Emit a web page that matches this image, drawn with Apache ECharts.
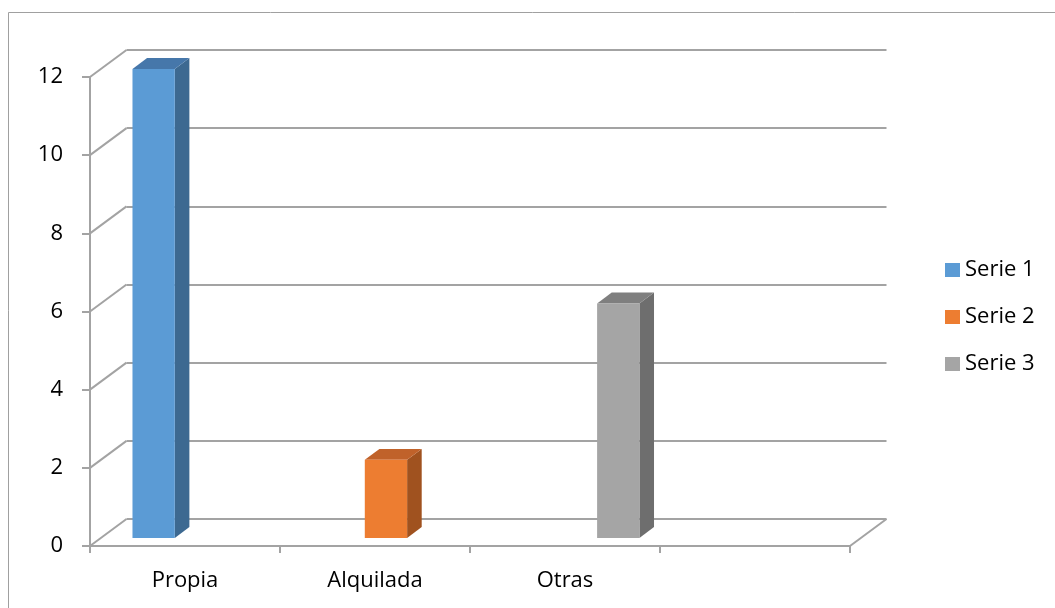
<!DOCTYPE html>
<html>
<head>
<meta charset="utf-8">
<script src="https://cdn.jsdelivr.net/npm/echarts@6/dist/echarts.min.js"></script>
<style>
  html, body { margin: 0; padding: 0; background: #fff; }
  #chart { width: 1055px; height: 608px; }
</style>
</head>
<body>
<div id="chart"></div>
<script>
  // datos del grafico
  var categories = ['Propia', 'Alquilada', 'Otras', '']
  var serie1 = [12, null, null, null]
  var serie2 = [null, 2, null, null]
  var serie3 = [null, null, 6, null]
  var yTicks = [0, 2, 4, 6, 8, 10, 12]
  var seriesNames = ['Serie 1', 'Serie 2', 'Serie 3']

  var FONT = '"Open Sans", sans-serif'
  var GRID_COLOR = '#a3a3a3'
  var DEPTH = [36.5, -27] // desplazamiento de la pared del fondo
  var palette = [
    { front: '#5B9BD5', side: '#3D6991', top: '#4677AA' },
    { front: '#ED7D31', side: '#A0521F', top: '#C0622A' },
    { front: '#A5A5A5', side: '#6E6E6E', top: '#7F7F7F' }
  ]

  // paredes laterales y piso
  function renderWalls (params, api) {
    var v = api.value(1)
    var bw = api.size([1, 0])[0]
    var p = api.coord([0, v])
    var xl = p[0] - bw / 2
    var style = { stroke: GRID_COLOR, lineWidth: 2 }
    var children = [
      { type: 'line', shape: { x1: xl, y1: p[1], x2: xl + DEPTH[0], y2: p[1] + DEPTH[1] }, style: style }
    ]
    if (v === 0) {
      var q = api.coord([categories.length - 1, 0])
      var xr = q[0] + bw / 2
      children.push({ type: 'line', shape: { x1: xr, y1: q[1], x2: xr + DEPTH[0], y2: q[1] + DEPTH[1] }, style: style })
    }
    return { type: 'group', children: children }
  }

  // columnas 3D
  function makeBarRenderer (s) {
    return function (params, api) {
      var cat = api.value(0)
      var val = api.value(1)
      var bw = api.size([1, 0])[0]
      var barW = bw * 0.2227
      var top = api.coord([cat, val])
      var base = api.coord([cat, 0])
      var f0 = 0.3, f1 = 0.7
      var x0 = top[0] + (s - 1.5) * barW + DEPTH[0] * f0
      var x1 = x0 + barW
      var yt = top[1] + DEPTH[1] * f0
      var yb = base[1] + DEPTH[1] * f0
      var dx = DEPTH[0] * (f1 - f0)
      var dy = DEPTH[1] * (f1 - f0)
      var c = palette[s]
      return {
        type: 'group',
        children: [
          { type: 'polygon', shape: { points: [[x1, yt], [x1 + dx, yt + dy], [x1 + dx, yb + dy], [x1, yb]] }, style: { fill: c.side } },
          { type: 'polygon', shape: { points: [[x0, yt], [x0 + dx, yt + dy], [x1 + dx, yt + dy], [x1, yt]] }, style: { fill: c.top } },
          { type: 'rect', shape: { x: x0, y: yt, width: barW, height: yb - yt }, style: { fill: c.front } }
        ]
      }
    }
  }

  function toPairs (arr) {
    var out = []
    arr.forEach(function (v, i) { if (v !== null) out.push([i, v]) })
    return out
  }

  var myChart = echarts.init(document.getElementById('chart'))
  var seriesData = [serie1, serie2, serie3]

  var series = [{
    type: 'custom',
    name: 'walls',
    xAxisIndex: 0,
    yAxisIndex: 0,
    silent: true,
    renderItem: renderWalls,
    data: yTicks.map(function (v) { return [0, v] }),
    z: 1
  }]
  seriesData.forEach(function (arr, s) {
    series.push({
      type: 'custom',
      name: seriesNames[s],
      xAxisIndex: 0,
      yAxisIndex: 0,
      itemStyle: { color: palette[s].front },
      renderItem: makeBarRenderer(s),
      data: toPairs(arr),
      z: 3
    })
  })

  myChart.setOption({
    animation: false,
    textStyle: { fontFamily: FONT },
    graphic: [{
      type: 'rect',
      shape: { x: 8.5, y: 12.5, width: 1100, height: 700 },
      style: { fill: 'none', stroke: '#a0a0a0', lineWidth: 1 },
      silent: true
    }],
    legend: {
      orient: 'vertical',
      left: 940,
      top: 254,
      icon: 'rect',
      itemWidth: 15,
      itemHeight: 14,
      itemGap: 25,
      data: seriesNames,
      textStyle: { fontFamily: FONT, fontSize: 22, color: '#000' }
    },
    grid: [
      { left: 90, top: 77, width: 760, height: 469 },
      { left: 90 + DEPTH[0], top: 77 + DEPTH[1], width: 760, height: 469 }
    ],
    xAxis: [{
      type: 'category',
      gridIndex: 0,
      data: categories,
      axisLine: { lineStyle: { color: GRID_COLOR, width: 2 } },
      axisTick: { show: true, length: 7, lineStyle: { color: GRID_COLOR, width: 2 } },
      axisLabel: { fontFamily: FONT, fontSize: 22, color: '#000', margin: 24, interval: 0 }
    }, {
      type: 'category',
      gridIndex: 1,
      data: categories,
      show: false
    }],
    yAxis: [{
      type: 'value',
      gridIndex: 0,
      min: 0,
      max: 12,
      interval: 2,
      axisLine: { show: true, lineStyle: { color: GRID_COLOR, width: 2 } },
      axisTick: { show: true, length: 8, lineStyle: { color: GRID_COLOR, width: 2 } },
      splitLine: { show: false },
      axisLabel: { fontFamily: FONT, fontSize: 22, color: '#000', margin: 27 }
    }, {
      type: 'value',
      gridIndex: 1,
      min: 0,
      max: 12,
      interval: 2,
      axisLine: { show: false },
      axisTick: { show: false },
      axisLabel: { show: false },
      splitLine: { show: true, lineStyle: { color: GRID_COLOR, width: 2 } }
    }],
    series: series
  })
</script>
</body>
</html>
